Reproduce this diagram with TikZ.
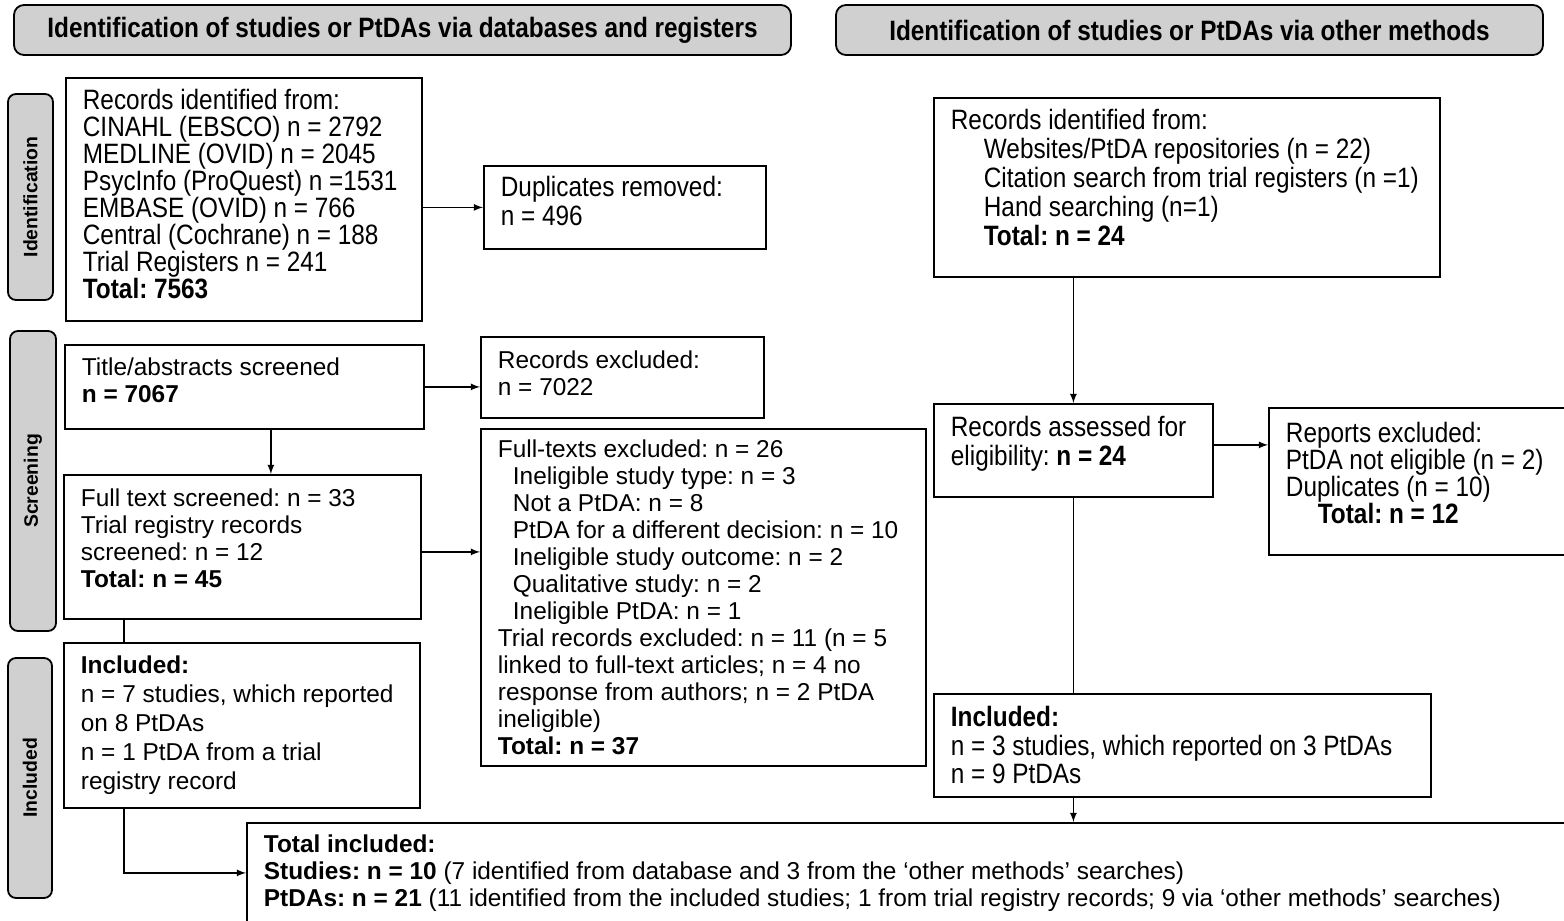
\documentclass[tikz,border=0pt]{standalone}
\usepackage{fontspec}
\setmainfont{Liberation Sans}
\newfontfamily\tallfont[FakeStretch=0.87]{Liberation Sans}
\usetikzlibrary{arrows}
\frenchspacing
\definecolor{labelgray}{RGB}{208,208,208}
\newcommand{\tallat}[1]{\tallfont\fontsize{14}{#1}\selectfont\spaceskip=3.35pt plus 1pt minus 0.5pt\relax}
\newcommand{\plainsize}{\fontsize{12.2}{13.5}\selectfont}
\newcommand{\lift}[1]{\par\kern#1\relax}
\tikzstyle{box}=[draw, rectangle, line width=0.9pt, anchor=north west, align=flush left, inner xsep=8.5pt, inner ysep=2pt]
\tikzstyle{heading}=[draw, rounded corners=5pt, fill=labelgray, line width=0.9pt, font=\tallat{16}\bfseries]
\tikzstyle{phase}=[draw, rounded corners=4pt, fill=labelgray, line width=0.9pt, rotate=90, inner sep=0pt, font=\bfseries\fontsize{9.7}{11}\selectfont]
\tikzstyle{link}=[->, >=latex, line width=0.6pt]
\tikzstyle{feed}=[line width=0.6pt]

\begin{document}
\begin{tikzpicture}[x=0.5pt, y=-0.5pt]
        \useasboundingbox (0,0) rectangle (1564,921);
        % column headings
        \node[heading, minimum width=388.5pt, minimum height=25pt] (headdb) at (402.5,30) {Identification of studies or PtDAs via databases and registers};
        \node[heading, minimum width=353.5pt, minimum height=25pt] (headother) at (1189.5,30) {Identification of studies or PtDAs via other methods};
        % phases
        \node[phase, minimum width=103pt, minimum height=22.5pt] (phaseid) at (30.5,197) {Identification};
        \node[phase, minimum width=150pt, minimum height=23pt] (phasescr) at (33,481) {Screening};
        \node[phase, minimum width=120pt, minimum height=22pt] (phaseinc) at (30,778) {Included};
        % databases and registers
        \node[box, font=\tallat{13.5}, text width=161pt, minimum height=121.5pt] (dbrec) at (65,77) {Records identified from:\\ CINAHL (EBSCO) n = 2792\\ MEDLINE (OVID) n = 2045\\ PsycInfo (ProQuest) n =1531\\ EMBASE (OVID) n = 766\\ Central (Cochrane) n = 188\\ Trial Registers n = 241\\ \textbf{Total: 7563}\lift{5pt}};
        \node[box, font=\tallat{14.5}, text width=124pt, minimum height=41.5pt] (dbdup) at (483,165) {Duplicates removed:\\ n = 496\lift{6pt}};
        \node[box, font=\plainsize, text width=162.5pt, minimum height=42pt] (dbtitle) at (64,344) {Title/abstracts screened\\ \textbf{n = 7067}\lift{7pt}};
        \node[box, font=\plainsize, text width=124.5pt, minimum height=40.5pt] (dbexcl) at (480,336) {Records excluded:\\ n = 7022\lift{4pt}};
        \node[box, font=\plainsize, text width=161.5pt, minimum height=72pt] (dbfull) at (63,474) {Full text screened: n = 33\\ Trial registry records\\ screened: n = 12\\ \textbf{Total: n = 45}\lift{9pt}};
        \node[box, font=\plainsize, text width=205.5pt, minimum height=168.5pt] (dbfullexcl) at (480,428) {Full-texts excluded: n = 26\\
          \hspace*{7.5pt}Ineligible study type: n = 3\\
          \hspace*{7.5pt}Not a PtDA: n = 8\\
          \hspace*{7.5pt}PtDA for a different decision: n = 10\\
          \hspace*{7.5pt}Ineligible study outcome: n = 2\\
          \hspace*{7.5pt}Qualitative study: n = 2\\
          \hspace*{7.5pt}Ineligible PtDA: n = 1\\
          Trial records excluded: n = 11 (n = 5\\ linked to full-text articles; n = 4 no\\ response from authors; n = 2 PtDA\\ ineligible)\\ \textbf{Total: n = 37}};
        \node[box, font=\fontsize{12.2}{14.5}\selectfont, text width=161pt, minimum height=82.5pt] (dbincl) at (63,642) {\textbf{Included:}\\ n = 7 studies, which reported\\ on 8 PtDAs\\ n = 1 PtDA from a trial\\ registry record};
        % other methods
        \node[box, font=\tallat{14.5}, text width=236pt, minimum height=89.5pt] (otrec) at (933,97) {Records identified from:\\
          \hspace*{16.5pt}Websites/PtDA repositories (n = 22)\\
          \hspace*{16.5pt}Citation search from trial registers (n =1)\\
          \hspace*{16.5pt}Hand searching (n=1)\\
          \hspace*{16.5pt}\textbf{Total: n = 24}\lift{10pt}};
        \node[box, font=\tallat{14.5}, text width=122.5pt, minimum height=46.5pt] (otassess) at (933,403) {Records assessed for\\ eligibility: \textbf{n = 24}\lift{7pt}};
        \node[box, font=\tallat{13.5}, text width=134pt, minimum height=73.5pt] (otexcl) at (1268,407) {Reports excluded:\\ PtDA not eligible (n = 2)\\ Duplicates (n = 10)\\ \hspace*{16pt}\textbf{Total: n = 12}\lift{8pt}};
        \node[box, font=\tallat{14.25}, text width=231.5pt, minimum height=51.5pt] (otincl) at (933,693) {\textbf{Included:}\\ n = 3 studies, which reported on 3 PtDAs\\ n = 9 PtDAs};
        % total
        \node[box, font=\plainsize, text width=645pt, minimum height=50pt] (total) at (246,822) {\textbf{Total included:}\\ \textbf{Studies: n = 10} (7 identified from database and 3 from the ‘other methods’ searches)\\ \textbf{PtDAs: n = 21} (11 identified from the included studies; 1 from trial registry records; 9 via ‘other methods’ searches)};
        % connectors
        \draw[link] (dbrec.east |- dbdup.west) -- (dbdup.west);
        \draw[link] (dbtitle.east) -- (dbtitle.east -| dbexcl.west);
        \draw[link] ([xshift=13.25pt]dbtitle.south) -- ([xshift=13.25pt]dbtitle.south |- dbfull.north);
        \draw[link] ([yshift=-2.5pt]dbfull.east) -- ([yshift=-2.5pt]dbfull.east -| dbfullexcl.west);
        \draw[feed] ([xshift=-59.25pt]dbfull.south) -- ([xshift=-59.25pt]dbfull.south |- dbincl.north);
        \draw[link] ([xshift=-59pt]dbincl.south) |- (total.west);
        \draw[link] (otrec.south -| otassess.north) -- (otassess.north);
        \draw[link] ([yshift=2.75pt]otassess.east) -- ([yshift=2.75pt]otassess.east -| otexcl.west);
        \draw[feed] (otassess.south) -- (otassess.south |- otincl.north);
        \draw[link] (otincl.south -| otassess.south) -- (otassess.south |- total.north);
\end{tikzpicture}
\end{document}
